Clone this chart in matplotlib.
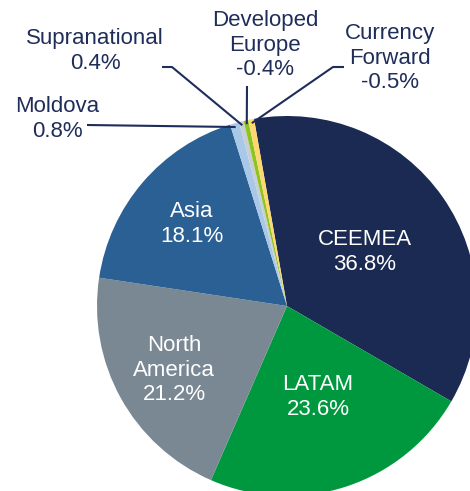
import numpy as np
import matplotlib
matplotlib.use("Agg")
import matplotlib.pyplot as plt

plt.rcParams['font.family'] = ['Liberation Sans', 'DejaVu Sans']

# ---- data ----
categories = ["CEEMEA", "LATAM", "North America", "Asia", "Moldova",
              "Supranational", "Developed Europe", "Currency Forward"]
values = [36.8, 23.6, 21.2, 18.1, 0.8, 0.4, -0.4, -0.5]
label_texts = ["CEEMEA\n36.8%", "LATAM\n23.6%", "North\nAmerica\n21.2%", "Asia\n18.1%",
               "Moldova\n0.8%", "Supranational\n0.4%", "Developed\nEurope\n-0.4%",
               "Currency\nForward\n-0.5%"]
colors = ["#1B2A52", "#00983F", "#7A8894", "#2A6094", "#A9C8E8",
          "#C8CED5", "#8DC41E", "#FFD770"]

W, H = 470, 491
CX, CY, R = 287, 306, 190  # pie centre / radius in pixels

fig = plt.figure(figsize=(W / 100, H / 100), dpi=100)
ax = fig.add_axes([(CX - R) / W, (H - CY - R) / H, 2 * R / W, 2 * R / H])

sizes = [abs(v) for v in values]
wedges, _ = ax.pie(sizes, colors=colors, startangle=100, counterclock=False,
                   radius=1, center=(0, 0), frame=True,
                   wedgeprops=dict(linewidth=0))
ax.set_xlim(-1, 1)
ax.set_ylim(-1, 1)
ax.set_aspect('auto')
ax.axis('off')


def d(px, py):
    return ((px - CX) / R, (CY - py) / R)


FS = 16
LS = 1.22
navy = "#1F2D5A"
# label layout (pixel positions of text block centres)
inside_pos = {0: (365, 252), 1: (318, 397), 2: (174, 370), 3: (192, 224)}
outside_pos = {4: (57, 119), 5: (95, 51), 6: (265, 45), 7: (390, 58)}
# leader elbows (pixels)
elbows = {4: [(87, 125)], 5: [(162, 67), (172, 67)], 6: [(247, 86)],
          7: [(344, 67), (333, 67)]}

for i, w in enumerate(wedges):
    if i in inside_pos:
        x, y = d(*inside_pos[i])
        ax.text(x, y, label_texts[i], ha='center', va='center', color='white',
                fontsize=FS, linespacing=LS, clip_on=False)
    else:
        x, y = d(*outside_pos[i])
        ax.text(x, y, label_texts[i], ha='center', va='center', color=navy,
                fontsize=FS, linespacing=LS, clip_on=False)
        mid = np.deg2rad((w.theta1 + w.theta2) / 2)
        ex, ey = np.cos(mid) * 0.98, np.sin(mid) * 0.98
        pts = [d(*p) for p in elbows[i]] + [(ex, ey)]
        xs, ys = zip(*pts)
        ax.plot(xs, ys, color=navy, lw=1.5, clip_on=False, solid_capstyle='butt')

fig.savefig("out.png", dpi=100)
